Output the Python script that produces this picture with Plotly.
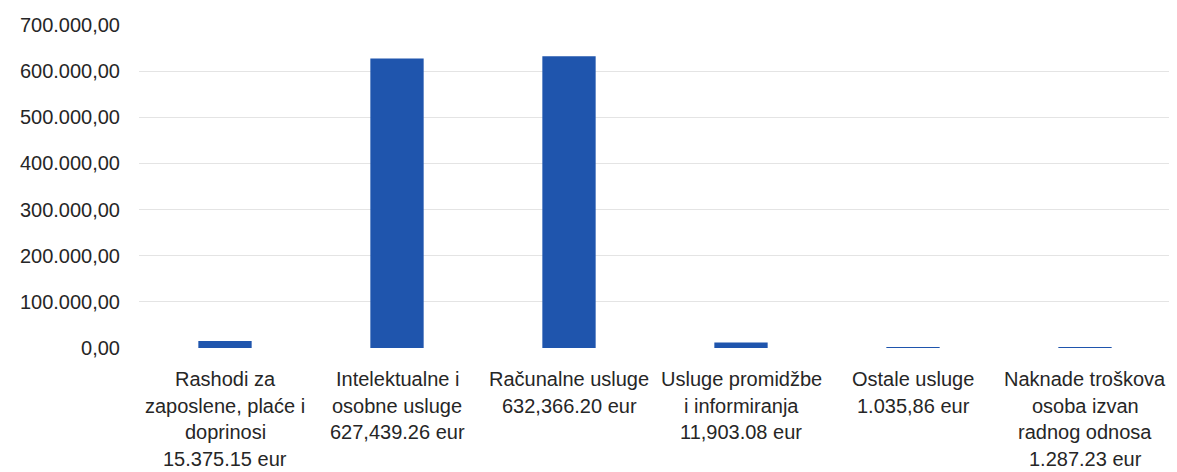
import plotly.graph_objects as go

category_lines = [
    ["Rashodi za", "zaposlene, plaće i", "doprinosi", "15.375.15 eur"],
    ["Intelektualne i", "osobne usluge", "627,439.26 eur"],
    ["Računalne usluge", "632,366.20 eur"],
    ["Usluge promidžbe", "i informiranja", "11,903.08 eur"],
    ["Ostale usluge", "1.035,86 eur"],
    ["Naknade troškova", "osoba izvan", "radnog odnosa", "1.287.23 eur"],
]
categories = [" ".join(lines) for lines in category_lines]
values = [15375.15, 627439.26, 632366.20, 11903.08, 1035.86, 1287.23]
y_ticks = [0, 100000, 200000, 300000, 400000, 500000, 600000, 700000]

fig = go.Figure(
    go.Bar(
        x=categories,
        y=values,
        marker=dict(color="#1F55AD", line=dict(width=0)),
        width=0.31,
    )
)

font_family = "Liberation Sans, Arial, sans-serif"
text_color = "#262626"

annotations = []
for cat, lines in zip(categories, category_lines):
    for i, line in enumerate(lines):
        annotations.append(
            dict(
                x=cat,
                xref="x",
                y=0,
                yref="paper",
                text=line,
                showarrow=False,
                xanchor="center",
                yanchor="middle",
                borderpad=0,
                yshift=-(31 + 26.5 * i),
                font=dict(family=font_family, size=20, color=text_color),
            )
        )

fig.update_layout(
    width=1169,
    height=464,
    margin=dict(l=131, r=6, t=13, b=124),
    plot_bgcolor="white",
    paper_bgcolor="white",
    separators=",.",
    showlegend=False,
    font=dict(family=font_family, size=20, color=text_color),
    annotations=annotations,
)
fig.update_yaxes(
    range=[0, 700000],
    tickvals=y_ticks,
    tickformat=",.2f",
    showgrid=True,
    gridcolor="#e4e4e4",
    gridwidth=1,
    zeroline=False,
    showline=False,
    ticks="",
    ticklabelstandoff=18,
    tickfont=dict(size=20, color=text_color),
)
fig.update_xaxes(
    showgrid=False,
    zeroline=False,
    showline=False,
    ticks="",
    showticklabels=False,
)

fig.write_html("out.html")
